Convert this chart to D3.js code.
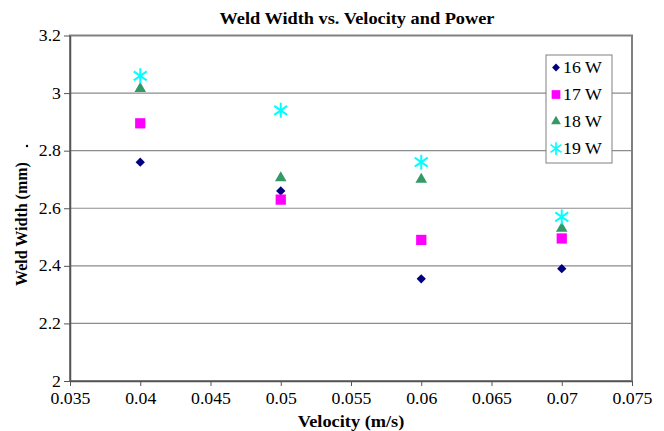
<!DOCTYPE html>
<html>
<head>
<meta charset="utf-8">
<script src="https://cdn.jsdelivr.net/npm/d3@7"></script>
<style>
body{margin:0;background:#fff}
</style>
</head>
<body>
<script>
var velocity=[0.04,0.05,0.06,0.07]
var w16=[2.76,2.66,2.355,2.39]
var w17=[2.895,2.63,2.49,2.495]
var w18=[3.015,2.705,2.70,2.53]
var w19=[3.06,2.94,2.76,2.57]
var seriesNames=["16 W","17 W","18 W","19 W"]
var xTicks=[0.035,0.04,0.045,0.05,0.055,0.06,0.065,0.07,0.075]
var yTicks=[2,2.2,2.4,2.6,2.8,3,3.2]

var width=664,height=431
var padding=[70,32,50,35.5] // left,right,bottom,top
var serif="'Liberation Serif','DejaVu Serif','Times New Roman',serif"
var stretch=1.11 // source picture is a bit wider than tall
var svg=d3.select("body").append("svg").attr("width",width).attr("height",height)

var scaleX=d3.scaleLinear().domain([0.035,0.075]).range([padding[0],width-padding[1]])
var scaleY=d3.scaleLinear().domain([2,3.2]).range([381,padding[3]])

// grid
svg.append("g").selectAll("line").data(yTicks.slice(1,-1)).enter().append("line")
	.attr("x1",padding[0]).attr("x2",width-padding[1])
	.attr("y1",function(d){return scaleY(d)}).attr("y2",function(d){return scaleY(d)})
	.attr("stroke","#8c8c8c").attr("stroke-width",1.2)

// border
svg.append("rect").attr("x",padding[0]).attr("y",scaleY(3.2))
	.attr("width",scaleX(0.075)-padding[0]).attr("height",scaleY(2)-scaleY(3.2))
	.attr("fill","none").attr("stroke","#808080").attr("stroke-width",2)

var xAxis=d3.axisBottom(scaleX).tickValues(xTicks).tickSize(5).tickSizeOuter(0).tickFormat(function(d){return String(+d.toFixed(3))})
var yAxis=d3.axisLeft(scaleY).tickValues(yTicks).tickSize(6).tickSizeOuter(0).tickFormat(function(d){return String(+d.toFixed(1))})

var gx=svg.append("g").attr("transform","translate(0,"+scaleY(2)+")").call(xAxis)
var gy=svg.append("g").attr("transform","translate("+padding[0]+",0)").call(yAxis)
gx.select(".domain").attr("stroke","#555").attr("stroke-width",1.5)
gy.select(".domain").attr("stroke","#555").attr("stroke-width",1.5)
svg.selectAll(".tick line").attr("stroke","#555")
svg.selectAll(".tick text").attr("fill","#000").attr("font-size",16).style("font-family",serif)
	.attr("transform","scale("+stretch+",1)")
gx.selectAll(".tick text").attr("dy","0.95em")
gy.selectAll(".tick text").attr("x",-9/stretch)

// titles
svg.append("text").attr("transform","translate(357,24) scale("+stretch+",1)").attr("text-anchor","middle").style("font-family",serif)
	.attr("font-size",16.5).attr("font-weight","bold").text("Weld Width vs. Velocity and Power")
svg.append("text").attr("transform","translate(351,427) scale("+stretch+",1)").attr("text-anchor","middle").style("font-family",serif)
	.attr("font-size",16.5).attr("font-weight","bold").text("Velocity (m/s)")
svg.append("text").attr("transform","translate(27,224) rotate(-90)").attr("text-anchor","middle").style("font-family",serif)
	.attr("font-size",16).attr("font-weight","bold").text("Weld Width (mm)")
svg.append("circle").attr("cx",27).attr("cy",146).attr("r",1.2).attr("fill","#000")

// markers
var symDiamond=d3.symbol().type(d3.symbolDiamond2).size(55)
var symSquare=d3.symbol().type(d3.symbolSquare).size(105)
var symTriangle=d3.symbol().type(d3.symbolTriangle).size(58)
function asterisk(g){
	g.append("path").attr("d","M0,-7.5L0,7.5M-6.5,-4.5L6.5,4.5M-6.5,4.5L6.5,-4.5")
		.attr("stroke","#00ffff").attr("stroke-width",2).attr("fill","none")
}
var series=[
	{vals:w16,draw:function(g){g.append("path").attr("d",symDiamond()).attr("fill","#000080")}},
	{vals:w17,draw:function(g){g.append("path").attr("d",symSquare()).attr("fill","#ff00ff")}},
	{vals:w18,draw:function(g){g.append("path").attr("d",symTriangle()).attr("fill","#339966")}},
	{vals:w19,draw:asterisk}
]
series.forEach(function(s){
	svg.append("g").selectAll("g").data(s.vals).enter().append("g")
		.attr("transform",function(d,i){return "translate("+scaleX(velocity[i])+","+scaleY(d)+")"})
		.each(function(){s.draw(d3.select(this))})
})

// legend
var leg=svg.append("g").attr("transform","translate(546,55)")
leg.append("rect").attr("width",66).attr("height",108).attr("fill","#fff").attr("stroke","#808080").attr("stroke-width",1)
series.forEach(function(s,i){
	var row=leg.append("g").attr("transform","translate(10,"+(12.5+i*27)+")")
	var m=row.append("g").attr("transform","scale(0.85)")
	s.draw(m)
	row.append("text").attr("transform","translate(7,5.5) scale(1.08,1)").attr("font-size",16.5).style("font-family",serif).text(seriesNames[i])
})
</script>
</body>
</html>
